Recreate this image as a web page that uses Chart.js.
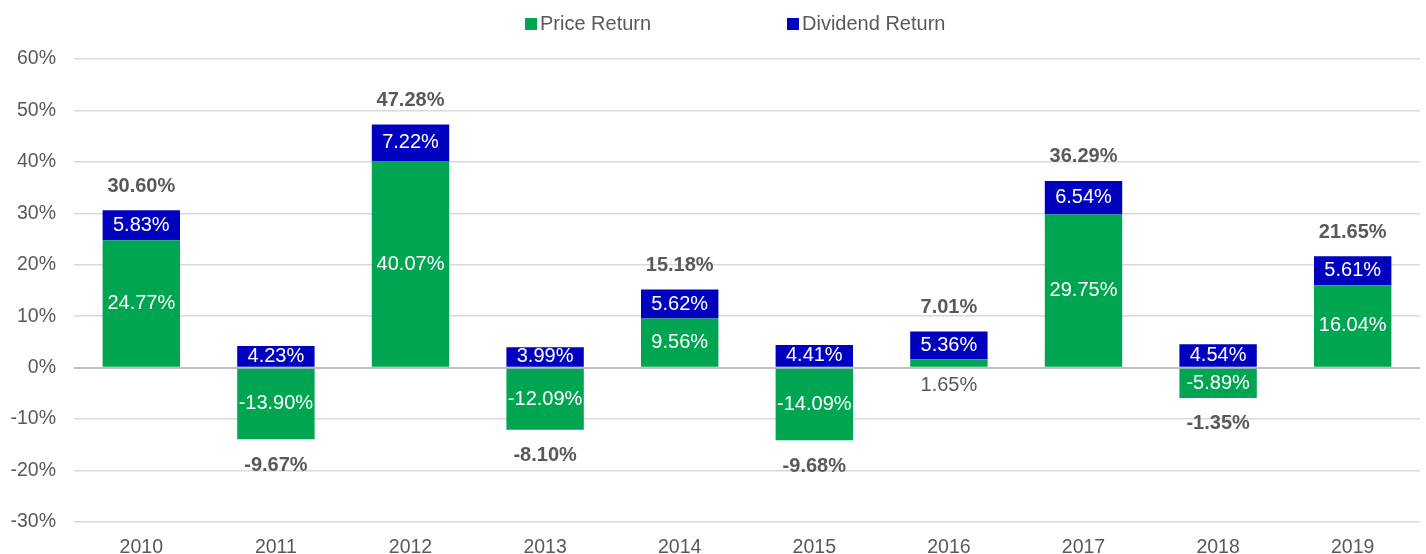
<!DOCTYPE html>
<html>
<head>
<meta charset="utf-8">
<script src="https://cdn.jsdelivr.net/npm/chart.js@4"></script>
<style>
  body { margin: 0; background: #fff; }
  #wrap { position: relative; width: 1426px; height: 554px; }
  .leg { position: absolute; top: 12px; font: 20px "Liberation Sans", Arial, sans-serif; color: #595959; white-space: nowrap; }
  .leg i { display: inline-block; width: 12px; height: 12px; margin-right: 3px; vertical-align: 0px; }
</style>
</head>
<body>
<div id="wrap">
  <canvas id="returns" width="1426" height="554"></canvas>
  <div class="leg" style="left:525px"><i style="background:#00A551"></i>Price Return</div>
  <div class="leg" style="left:787px"><i style="background:#0000BF"></i>Dividend Return</div>
</div>
<script>
var years = ['2010', '2011', '2012', '2013', '2014', '2015', '2016', '2017', '2018', '2019'];
var priceReturn = [24.77, -13.90, 40.07, -12.09, 9.56, -14.09, 1.65, 29.75, -5.89, 16.04];
var dividendReturn = [5.83, 4.23, 7.22, 3.99, 5.62, 4.41, 5.36, 6.54, 4.54, 5.61];
var totalReturn = [30.60, -9.67, 47.28, -8.10, 15.18, -9.68, 7.01, 36.29, -1.35, 21.65];
var yTicks = [-30, -20, -10, 0, 10, 20, 30, 40, 50, 60];

var font = '"Liberation Sans", Arial, sans-serif';

// draws the values inside the bars and the totals above / below each stack
var barLabels = {
    id: 'barLabels',
    afterDatasetsDraw: function(chart) {
        var ctx = chart.ctx;
        ctx.save();
        ctx.textAlign = 'center';
        ctx.textBaseline = 'middle';
        ctx.font = '20px ' + font;
        chart.data.datasets.forEach(function(ds, d) {
            chart.getDatasetMeta(d).data.forEach(function(bar, i) {
                var h = Math.abs(bar.base - bar.y);
                var txt = ds.data[i].toFixed(2) + '%';
                if (h < 12) {
                    // too thin for the text: put it under the bar
                    ctx.fillStyle = '#595959';
                    ctx.fillText(txt, bar.x, Math.max(bar.base, bar.y) + 19);
                } else {
                    ctx.fillStyle = '#ffffff';
                    ctx.fillText(txt, bar.x, (bar.y + bar.base) / 2);
                }
            });
        });
        ctx.font = 'bold 20px ' + font;
        ctx.fillStyle = '#595959';
        totalReturn.forEach(function(t, i) {
            var top = Infinity, bottom = -Infinity, x = 0;
            chart.data.datasets.forEach(function(ds, d) {
                var bar = chart.getDatasetMeta(d).data[i];
                top = Math.min(top, bar.y, bar.base);
                bottom = Math.max(bottom, bar.y, bar.base);
                x = bar.x;
            });
            var y = t >= 0 ? top - 24 : bottom + 26;
            ctx.fillText(t.toFixed(2) + '%', x, y);
        });
        ctx.restore();
    }
};

new Chart(document.getElementById('returns').getContext('2d'), {
    type: 'bar',
    data: {
        labels: years,
        datasets: [{
            label: 'Price Return',
            data: priceReturn,
            backgroundColor: '#00A551',
            barPercentage: 0.575,
            categoryPercentage: 1
        }, {
            label: 'Dividend Return',
            data: dividendReturn,
            backgroundColor: '#0000BF',
            barPercentage: 0.575,
            categoryPercentage: 1
        }]
    },
    options: {
        responsive: false,
        animation: false,
        devicePixelRatio: 1,
        layout: { padding: { top: 59, right: 6, left: 0, bottom: 0 } },
        plugins: {
            legend: { display: false },
            tooltip: { enabled: false }
        },
        scales: {
            x: {
                stacked: true,
                grid: { display: false },
                border: { display: false },
                ticks: { color: '#595959', font: { family: font, size: 19.5 }, padding: 6 },
                afterFit: function(s) { s.height = 32; }
            },
            y: {
                stacked: true,
                min: -30,
                max: 60,
                afterBuildTicks: function(s) { s.ticks = yTicks.map(function(v) { return { value: v }; }); },
                grid: {
                    drawTicks: false,
                    color: function(c) { return c.tick && c.tick.value === 0 ? '#bfbfbf' : '#d9d9d9'; },
                    lineWidth: function(c) { return c.tick && c.tick.value === 0 ? 2 : 1.5; }
                },
                border: { display: false },
                ticks: {
                    color: '#595959',
                    font: { family: font, size: 19.5 },
                    padding: 18,
                    callback: function(v) { return v + '%'; }
                },
                afterFit: function(s) { s.width = 74; }
            }
        }
    },
    plugins: [barLabels]
});
</script>
</body>
</html>
